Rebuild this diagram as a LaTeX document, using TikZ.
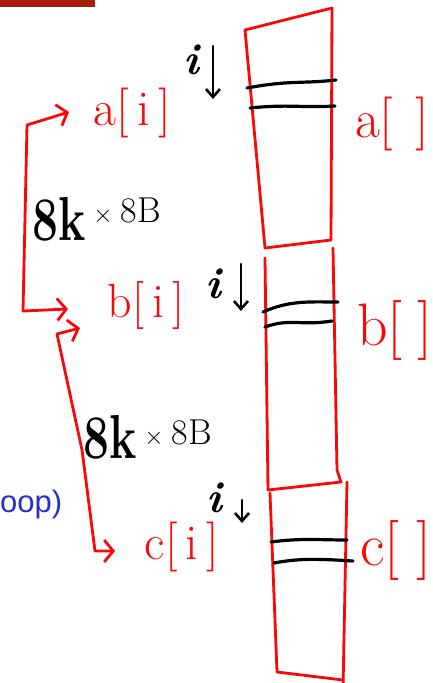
\documentclass[tikz,border=0pt]{standalone}
\usepackage{fontspec}
\newfontfamily\sansf{Liberation Sans}
\usetikzlibrary{arrows.meta}
\definecolor{pen}{RGB}{250,8,8}
\definecolor{ink}{RGB}{0,0,0}
\definecolor{barred}{RGB}{168,30,12}
\definecolor{blu}{RGB}{40,50,190}
\tikzset{
  redline/.style={draw=pen,line width=2.8pt,line join=round,line cap=round},
  blackline/.style={draw=ink,line width=3.2pt,line cap=round},
  conn/.style={redline,{Straight Barb[length=9pt,width=22pt]}-{Straight Barb[length=9pt,width=22pt]}},
  tickarrow/.style={draw=ink,line width=2.6pt,line cap=round,-{Straight Barb[length=8pt,width=14pt]}},
  redlab/.style={text=pen,inner sep=0pt},
  idx/.style={inner sep=0pt,font=\fontsize{44}{44}\selectfont\bfseries\itshape},
  sizelab/.style={anchor=base west,inner sep=0pt}
}
\newcommand{\eightk}[1]{\scalebox{1}[1.35]{\fontsize{46}{46}\selectfont\bfseries 8k}\hspace{8pt}\raisebox{#1}{\fontsize{28}{28}\selectfont$\times$}\hspace{8pt}\raisebox{#1}{\fontsize{36}{36}\selectfont 8B}}
\begin{document}
\begin{tikzpicture}[x=1pt,y=-1pt]
\useasboundingbox (0,0) rectangle (433,683);
\clip (0,0) rectangle (433,683);
% top bar
\fill[barred] (0,0) rectangle (95,7);
% blue text
\node[anchor=west,inner sep=0pt,text=blu,font=\sansf\fontsize{31}{31}\selectfont] (loop) at (0,504) {oop)};
% columns
\draw[redline] (245,30) -- (332,8) -- (331,240) -- (265,248) -- cycle;
\draw[redline] (265,258) -- (268,490) -- (341,482) -- (337,470) -- (333,248);
\draw[redline] (270,493) -- (277,672) -- (343,680);
\draw[redline] (347,482) -- (343,690);
% black lines
\draw[blackline] (247,88) .. controls (290,80) and (300,84) .. (336,80);
\draw[blackline] (250,108) .. controls (290,104) and (300,108) .. (335,106);
\draw[blackline] (263,312) .. controls (290,300) and (310,302) .. (338,302);
\draw[blackline] (265,327) .. controls (290,318) and (300,326) .. (332,321);
\draw[blackline] (271,542) .. controls (300,538) and (320,540) .. (347,540);
\draw[blackline] (274,563) .. controls (300,558) and (320,559) .. (353,561);
% left labels
\node[redlab,font=\fontsize{50}{50}\selectfont] (ai) at (132,113) {a[\,i\,]};
\node[redlab,font=\fontsize{48}{48}\selectfont] (bi) at (146,305) {b[\,i\,]};
\node[redlab,font=\fontsize{50}{50}\selectfont] (ci) at (182,547) {c[\,i\,]};
% right labels
\node[redlab,anchor=west,font=\fontsize{54}{54}\selectfont] (ar) at (355,124) {a[\hspace{22pt}]};
\node[redlab,anchor=west,font=\fontsize{60}{60}\selectfont] (br) at (357,330) {b[\hspace{15pt}]};
\node[redlab,anchor=west,font=\fontsize{60}{60}\selectfont] (cr) at (360,550) {c[\hspace{17pt}]};
% index markers
\node[idx] (ia) at (191,60) {i};
\node[idx] (ib) at (213,284) {i};
\node[idx] (ic) at (214,498) {i};
\coordinate (ia1) at (213,46); \coordinate (ia2) at (213,99);
\coordinate (ib1) at (241,264); \coordinate (ib2) at (241,311);
\coordinate (ic1) at (242,500); \coordinate (ic2) at (242,523);
\draw[tickarrow] (ia1) -- (ia2);
\draw[tickarrow] (ib1) -- (ib2);
\draw[tickarrow] (ic1) -- (ic2);
% sizes
\node[sizelab] (sa) at (32,240) {\eightk{18pt}};
\node[sizelab] (sb) at (83,458) {\eightk{14pt}};
% connectors
\coordinate (ta) at (69,112);
\coordinate (tb) at (68,309);
\coordinate (tb2) at (80,328);
\coordinate (tc) at (115,551);
\draw[conn] (ta) -- (27,125) -- (23,311) -- (tb);
\draw[conn] (tb2) -- (57,334) -- (82,450) -- (95,551) -- (tc);
\end{tikzpicture}
\end{document}
